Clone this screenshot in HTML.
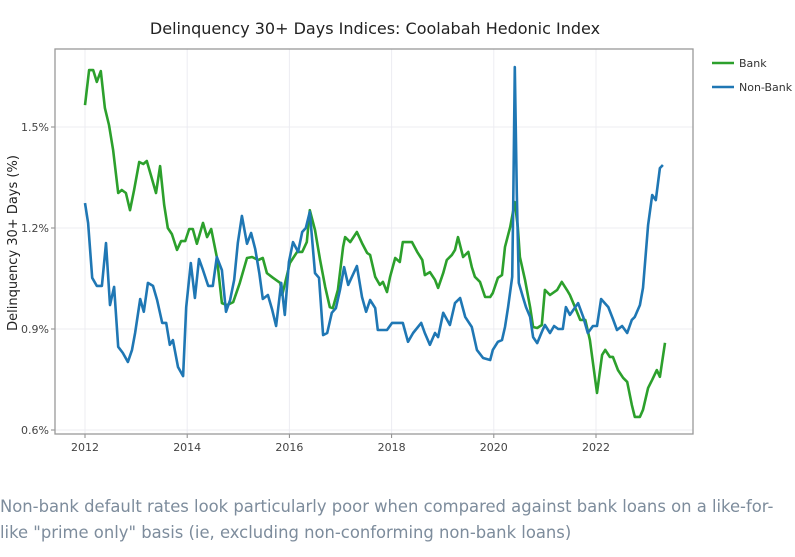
<!DOCTYPE html>
<html><head><meta charset="utf-8"><style>
body{margin:0;background:#fff;width:795px;height:557px;overflow:hidden;font-family:"DejaVu Sans",sans-serif}
#cap{position:absolute;left:0;top:494px;width:795px;font-size:16.4px;line-height:26px;color:#7d8c9c;white-space:nowrap}
</style></head><body>
<svg id="chart" width="795" height="480" style="position:absolute;left:0;top:0" font-family="DejaVu Sans, sans-serif"></svg>
<div id="cap">Non-bank default rates look particularly poor when compared against bank loans on a like-for-<br>like "prime only" basis (ie, excluding non-conforming non-bank loans)</div>
<script>
const bankT=[2012.00,2012.08,2012.16,2012.23,2012.31,2012.39,2012.47,2012.55,2012.65,2012.72,2012.80,2012.88,2012.96,2013.06,2013.14,2013.21,2013.29,2013.39,2013.47,2013.55,2013.62,2013.70,2013.80,2013.88,2013.96,2014.04,2014.11,2014.19,2014.31,2014.39,2014.47,2014.58,2014.68,2014.78,2014.90,2015.03,2015.17,2015.27,2015.39,2015.48,2015.56,2015.68,2015.82,2015.86,2016.01,2016.15,2016.25,2016.34,2016.40,2016.50,2016.60,2016.70,2016.79,2016.85,2016.95,2017.05,2017.09,2017.19,2017.32,2017.42,2017.52,2017.58,2017.68,2017.77,2017.83,2017.91,2017.97,2018.07,2018.16,2018.22,2018.40,2018.50,2018.60,2018.65,2018.75,2018.85,2018.91,2019.01,2019.08,2019.18,2019.24,2019.30,2019.40,2019.50,2019.57,2019.63,2019.73,2019.83,2019.93,2019.98,2020.08,2020.16,2020.22,2020.32,2020.41,2020.47,2020.51,2020.61,2020.71,2020.77,2020.85,2020.94,2021.00,2021.10,2021.24,2021.33,2021.43,2021.49,2021.59,2021.69,2021.79,2021.88,2022.02,2022.12,2022.18,2022.27,2022.33,2022.43,2022.53,2022.61,2022.70,2022.76,2022.86,2022.92,2023.02,2023.10,2023.19,2023.25,2023.35];
const bankV=[1.565,1.669,1.669,1.634,1.666,1.556,1.506,1.432,1.304,1.313,1.304,1.253,1.313,1.396,1.390,1.399,1.357,1.304,1.384,1.268,1.200,1.182,1.135,1.161,1.161,1.197,1.197,1.153,1.215,1.173,1.197,1.114,0.977,0.971,0.980,1.037,1.111,1.114,1.105,1.111,1.066,1.052,1.037,1.001,1.096,1.129,1.129,1.158,1.253,1.194,1.105,1.025,0.965,0.962,1.016,1.144,1.173,1.158,1.188,1.155,1.126,1.120,1.055,1.031,1.040,1.010,1.055,1.111,1.099,1.158,1.158,1.129,1.105,1.060,1.069,1.046,1.022,1.066,1.105,1.120,1.135,1.173,1.114,1.129,1.084,1.055,1.040,0.995,0.995,1.007,1.052,1.060,1.144,1.203,1.277,1.203,1.114,1.046,0.965,0.906,0.903,0.912,1.016,1.001,1.016,1.040,1.016,1.001,0.965,0.927,0.927,0.867,0.710,0.823,0.838,0.817,0.817,0.778,0.755,0.743,0.675,0.639,0.639,0.660,0.725,0.749,0.778,0.758,0.859];
const nonBankT=[2012.00,2012.06,2012.14,2012.23,2012.33,2012.41,2012.49,2012.57,2012.65,2012.74,2012.84,2012.92,2012.98,2013.08,2013.15,2013.23,2013.33,2013.41,2013.51,2013.59,2013.66,2013.72,2013.82,2013.92,2013.98,2014.07,2014.15,2014.23,2014.31,2014.41,2014.50,2014.58,2014.68,2014.76,2014.84,2014.92,2014.99,2015.07,2015.17,2015.25,2015.33,2015.41,2015.48,2015.58,2015.66,2015.74,2015.84,2015.91,2015.99,2016.07,2016.17,2016.25,2016.32,2016.40,2016.50,2016.58,2016.66,2016.74,2016.83,2016.91,2016.99,2017.07,2017.15,2017.32,2017.42,2017.50,2017.58,2017.68,2017.73,2017.91,2018.01,2018.22,2018.32,2018.42,2018.58,2018.65,2018.75,2018.85,2018.91,2019.01,2019.14,2019.24,2019.34,2019.44,2019.57,2019.67,2019.79,2019.93,2019.98,2020.08,2020.16,2020.22,2020.28,2020.36,2020.38,2020.41,2020.45,2020.49,2020.57,2020.63,2020.71,2020.77,2020.85,2020.94,2021.00,2021.10,2021.18,2021.26,2021.35,2021.41,2021.49,2021.65,2021.75,2021.84,2021.94,2022.02,2022.10,2022.24,2022.33,2022.41,2022.51,2022.61,2022.70,2022.76,2022.86,2022.92,2023.02,2023.10,2023.17,2023.25,2023.31];
const nonBankV=[1.274,1.215,1.052,1.028,1.028,1.155,0.971,1.025,0.847,0.829,0.802,0.838,0.888,0.989,0.951,1.037,1.028,0.986,0.918,0.918,0.853,0.867,0.787,0.760,0.965,1.096,0.992,1.108,1.075,1.028,1.028,1.114,1.075,0.951,0.986,1.046,1.155,1.236,1.153,1.185,1.138,1.066,0.989,1.001,0.959,0.909,1.037,0.942,1.099,1.158,1.129,1.188,1.200,1.248,1.066,1.052,0.882,0.888,0.948,0.962,1.016,1.084,1.031,1.087,0.995,0.951,0.986,0.962,0.897,0.897,0.918,0.918,0.862,0.888,0.918,0.888,0.853,0.888,0.876,0.948,0.912,0.977,0.992,0.936,0.906,0.838,0.814,0.808,0.838,0.862,0.867,0.906,0.965,1.055,1.262,1.678,1.304,1.037,0.995,0.965,0.936,0.876,0.858,0.891,0.912,0.888,0.909,0.900,0.900,0.965,0.942,0.977,0.936,0.888,0.909,0.909,0.989,0.965,0.930,0.897,0.909,0.888,0.927,0.936,0.971,1.022,1.209,1.298,1.283,1.378,1.387];
const yTicks=[0.6,0.9,1.2,1.5];
const yTickLabels=["0.6%","0.9%","1.2%","1.5%"];
const xTicks=[2012,2014,2016,2018,2020,2022];
const xTickLabels=["2012","2014","2016","2018","2020","2022"];

const NS="http://www.w3.org/2000/svg";
const svg=document.getElementById('chart');
const L=55,R=693,T=49,B=434;
const sx=t=>85+(t-2012)*51.1;
const sy=v=>127+(1.5-v)/0.3*101;
function mk(tag,attrs,parent){const e=document.createElementNS(NS,tag);for(const k in attrs)e.setAttribute(k,attrs[k]);(parent||svg).appendChild(e);return e;}

const title=mk('text',{x:375,y:34,'text-anchor':'middle','font-size':16,fill:'#222'});
title.textContent='Delinquency 30+ Days Indices: Coolabah Hedonic Index';



yTicks.forEach((v,i)=>{
  const g=mk('line',{x1:L,x2:R,y1:sy(v),y2:sy(v),stroke:'#ececf2','stroke-width':1});
  
  
  mk('line',{x1:L-4,x2:L,y1:sy(v),y2:sy(v),stroke:'#888'});
  const t=mk('text',{x:L-6,y:sy(v)+4,'text-anchor':'end','font-size':11,fill:'#444'});
  t.textContent=yTickLabels[i];
  
  
});
xTicks.forEach((v,i)=>{
  const g=mk('line',{x1:sx(v),x2:sx(v),y1:T,y2:B,stroke:'#ececf2','stroke-width':1});
  
  
  mk('line',{x1:sx(v),x2:sx(v),y1:B,y2:B+4,stroke:'#888'});
  const t=mk('text',{x:sx(v),y:B+17,'text-anchor':'middle','font-size':11,fill:'#444'});
  t.textContent=xTickLabels[i];
  
  
});
const box=mk('rect',{x:L,y:T,width:R-L,height:B-T,fill:'none',stroke:'#999','stroke-width':1.3});



const yt=mk('text',{transform:'translate(17,243) rotate(-90)','text-anchor':'middle','font-size':13,fill:'#222'});
yt.textContent='Delinquency 30+ Days (%)';



function line(ts,vs,color,name){
  const d=ts.map((t,i)=>(i?'L':'M')+sx(t).toFixed(1)+','+sy(vs[i]).toFixed(1)).join('');
  const p=mk('path',{d:d,fill:'none',stroke:color,'stroke-width':2.6,'stroke-linejoin':'round'});
  
  
}
line(bankT,bankV,'#2ca02c','bank-series');
line(nonBankT,nonBankV,'#1f77b4','non-bank-series');

[['Bank','#2ca02c',63,'legend-entry-bank'],['Non-Bank','#1f77b4',87,'legend-entry-non-bank']].forEach(e=>{
  const g=mk('g',{});
  
  
  mk('line',{x1:712,x2:734,y1:e[2],y2:e[2],stroke:e[1],'stroke-width':2.6},g);
  const t=mk('text',{x:739,y:e[2]+4,'font-size':11,fill:'#333'},g);
  t.textContent=e[0];
});
</script>
</body></html>
